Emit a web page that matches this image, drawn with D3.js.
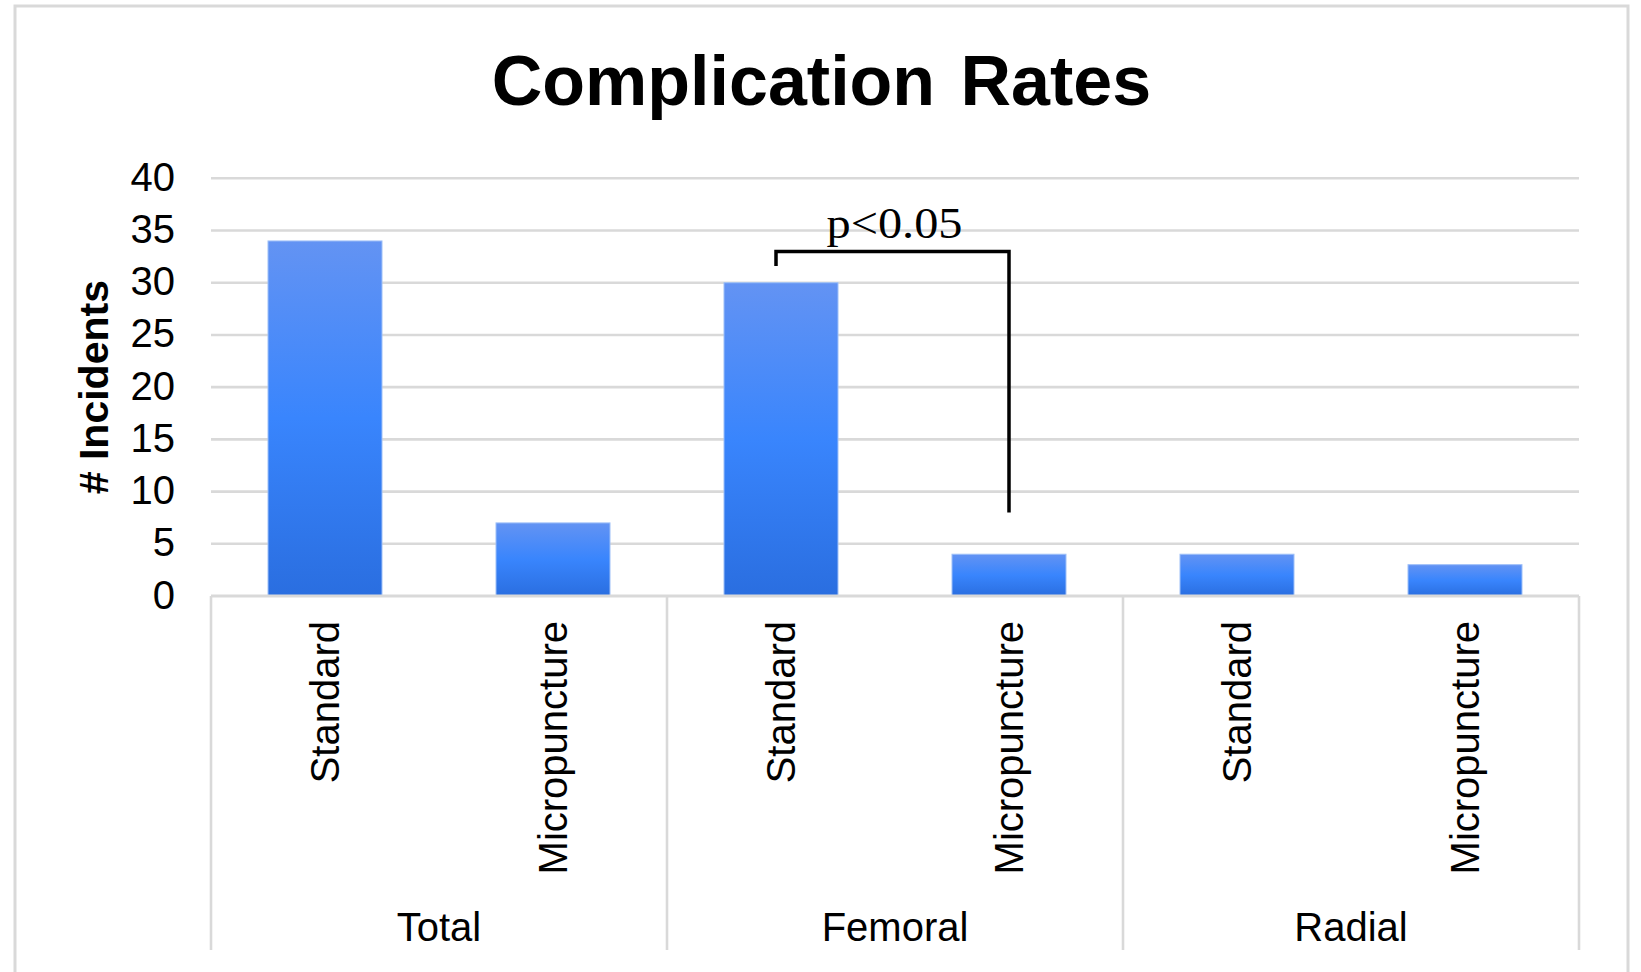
<!DOCTYPE html>
<html>
<head>
<meta charset="utf-8">
<script src="https://cdn.jsdelivr.net/npm/d3@7"></script>
<style>
  html, body { margin: 0; padding: 0; background: #ffffff; }
  svg { display: block; }
</style>
</head>
<body>
<svg id="chart" width="1641" height="972"></svg>
<script>
// Chart data
const groups = ["Total", "Femoral", "Radial"];
const methods = ["Standard", "Micropuncture"];
const incidents = [34, 7, 30, 4, 4, 3];   // in group order, Standard then Micropuncture
const yTicks = [0, 5, 10, 15, 20, 25, 30, 35, 40];
const chartTitle = "Complication Rates";
const yTitle = "# Incidents";

// Significance bracket between femoral Standard and Micropuncture
const sigLabel = "p<0.05";
const sigFrom = ["Femoral", "Standard"];
const sigTo = ["Femoral", "Micropuncture"];
const sigTop = 33;      // bracket height in incidents
const sigLeftEnd = 31.6;
const sigRightEnd = 8;

const rows = [];
groups.forEach((g, gi) => methods.forEach((m, mi) => {
  rows.push({ group: g, method: m, key: g + "|" + m, value: incidents[gi * methods.length + mi] });
}));

const svg = d3.select("#chart");
const plot = { left: 211, right: 1579, top: 178.3, bottom: 596 };

// Outer frame
svg.append("rect")
  .attr("x", 15).attr("y", 6)
  .attr("width", 1613).attr("height", 1000)
  .attr("fill", "#ffffff")
  .attr("stroke", "#d9d9d9").attr("stroke-width", 3);

const x = d3.scaleBand()
  .domain(rows.map(d => d.key))
  .range([plot.left, plot.right])
  .paddingInner(0.5).paddingOuter(0.25);

const xGroup = d3.scaleBand()
  .domain(groups)
  .range([plot.left, plot.right]);

const y = d3.scaleLinear()
  .domain([0, 40])
  .range([plot.bottom, plot.top]);

// Gradient for the bars
const defs = svg.append("defs");
const grad = defs.append("linearGradient")
  .attr("id", "barFill").attr("x1", 0).attr("y1", 0).attr("x2", 0).attr("y2", 1);
grad.append("stop").attr("offset", "0%").attr("stop-color", "#6393f3");
grad.append("stop").attr("offset", "50%").attr("stop-color", "#3985fd");
grad.append("stop").attr("offset", "100%").attr("stop-color", "#2a6ee0");

// Horizontal gridlines
svg.append("g")
  .selectAll("line")
  .data(yTicks.filter(t => t > 0))
  .join("line")
  .attr("x1", plot.left).attr("x2", plot.right)
  .attr("y1", d => y(d)).attr("y2", d => y(d))
  .attr("stroke", "#d9d9d9").attr("stroke-width", 2.6);

// Y axis labels
const yAxis = d3.axisLeft(y).tickValues(yTicks).tickSize(0).tickPadding(36);
const yg = svg.append("g")
  .attr("transform", `translate(${plot.left},0)`)
  .call(yAxis);
yg.select(".domain").remove();
yg.selectAll("text")
  .attr("font-family", "Liberation Sans, Arial, sans-serif")
  .attr("font-size", 40)
  .attr("fill", "#000000")
  .attr("dy", "0.3em");

// Y axis title
svg.append("text")
  .attr("transform", `translate(108,${(plot.top + plot.bottom) / 2}) rotate(-90)`)
  .attr("text-anchor", "middle")
  .attr("font-family", "Liberation Sans, Arial, sans-serif")
  .attr("font-weight", "bold")
  .attr("font-size", 41)
  .attr("fill", "#000000")
  .text(yTitle);

// Bars
svg.append("g")
  .selectAll("rect")
  .data(rows)
  .join("rect")
  .attr("x", d => x(d.key))
  .attr("y", d => y(d.value))
  .attr("width", x.bandwidth())
  .attr("height", d => y(0) - y(d.value))
  .attr("fill", "url(#barFill)")
  .attr("stroke", "#9ec0f8")
  .attr("stroke-width", 1);

// Category axis: baseline and group separators
const sepBottom = 950;
svg.append("line")
  .attr("x1", plot.left).attr("x2", plot.right)
  .attr("y1", y(0)).attr("y2", y(0))
  .attr("stroke", "#d9d9d9").attr("stroke-width", 3);

const sepXs = groups.map(g => xGroup(g)).concat([xGroup(groups[groups.length - 1]) + xGroup.bandwidth()]);
svg.append("g")
  .selectAll("line")
  .data(sepXs)
  .join("line")
  .attr("x1", d => d).attr("x2", d => d)
  .attr("y1", y(0)).attr("y2", sepBottom)
  .attr("stroke", "#d9d9d9").attr("stroke-width", 2.6);

// Method labels, rotated
svg.append("g")
  .selectAll("text")
  .data(rows)
  .join("text")
  .attr("transform", d => `translate(${x(d.key) + x.bandwidth() / 2},${y(0) + 25}) rotate(-90)`)
  .attr("text-anchor", "end")
  .attr("dy", "0.36em")
  .attr("font-family", "Liberation Sans, Arial, sans-serif")
  .attr("font-size", 40)
  .attr("fill", "#000000")
  .text(d => d.method);

// Group labels
svg.append("g")
  .selectAll("text")
  .data(groups)
  .join("text")
  .attr("x", d => xGroup(d) + xGroup.bandwidth() / 2)
  .attr("y", 941)
  .attr("text-anchor", "middle")
  .attr("font-family", "Liberation Sans, Arial, sans-serif")
  .attr("font-size", 40)
  .attr("fill", "#000000")
  .text(d => d);

// Title
svg.append("text")
  .attr("x", (15 + 1628) / 2)
  .attr("y", 105)
  .attr("text-anchor", "middle")
  .attr("font-family", "Liberation Sans, Arial, sans-serif")
  .attr("font-weight", "bold")
  .attr("font-size", 70)
  .attr("word-spacing", 6)
  .attr("fill", "#000000")
  .text(chartTitle);

// Significance bracket
const bx1 = x(sigFrom.join("|")) + x.bandwidth() / 2 - 5;
const bx2 = x(sigTo.join("|")) + x.bandwidth() / 2;
svg.append("path")
  .attr("d", d3.line()([
    [bx1, y(sigLeftEnd)], [bx1, y(sigTop)], [bx2, y(sigTop)], [bx2, y(sigRightEnd)]
  ]))
  .attr("fill", "none")
  .attr("stroke", "#000000")
  .attr("stroke-width", 3.5)
  .attr("stroke-linejoin", "miter");

svg.append("text")
  .attr("x", (bx1 + bx2) / 2 + 2)
  .attr("y", y(sigTop) - 13)
  .attr("text-anchor", "middle")
  .attr("font-family", "Liberation Serif, 'DejaVu Serif', serif")
  .attr("font-size", 45)
  .attr("textLength", 136)
  .attr("lengthAdjust", "spacingAndGlyphs")
  .attr("fill", "#000000")
  .text(sigLabel);
</script>
</body>
</html>
